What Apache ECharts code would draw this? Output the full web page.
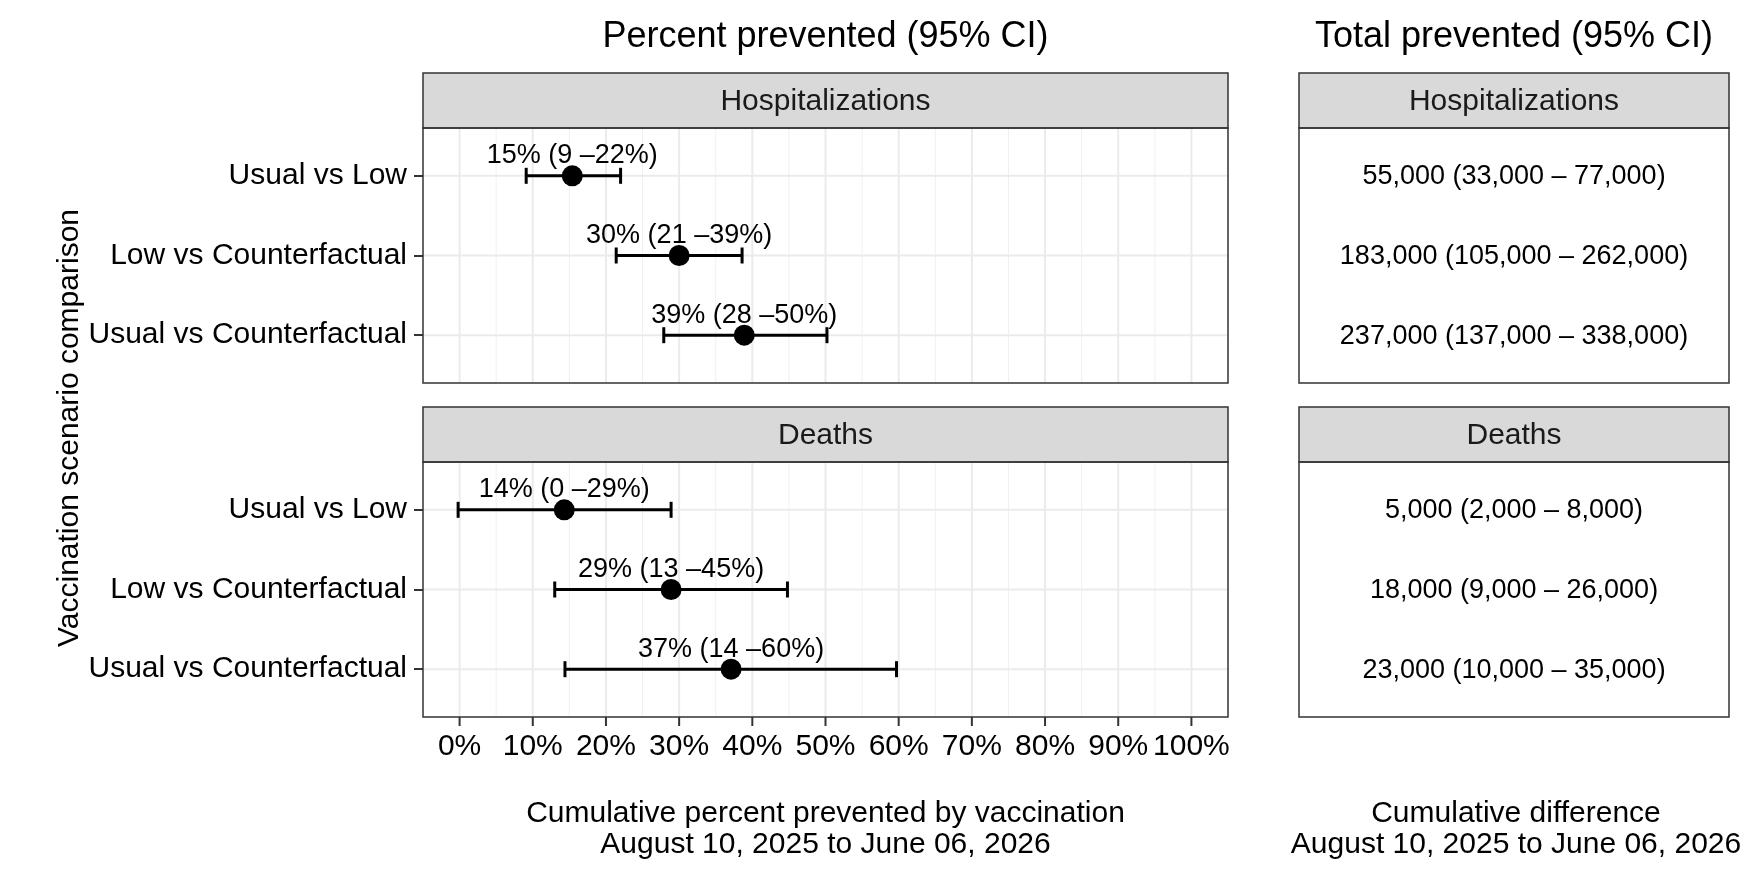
<!DOCTYPE html>
<html><head><meta charset="utf-8">
<script src="https://cdn.jsdelivr.net/npm/echarts@6/dist/echarts.min.js"></script>
<style>html,body{margin:0;padding:0;background:#fff}#c{width:1764px;height:882px}</style>
</head><body><div id="c"></div>
<script>
// ---------- data ----------
const comparisons = ['Usual vs Low', 'Low vs Counterfactual', 'Usual vs Counterfactual'];
const outcomes = ['Hospitalizations', 'Deaths'];
const rows = [1, 2, 3];

const hospPct = [15.4, 30.0, 38.9];
const hospLo  = [9.1, 21.4, 27.9];
const hospHi  = [22.0, 38.6, 50.2];
const hospLabels = ['15% (9 \u201322%)', '30% (21 \u201339%)', '39% (28 \u201350%)'];

const deathPct = [14.3, 28.9, 37.1];
const deathLo  = [-0.2, 13.0, 14.4];
const deathHi  = [28.9, 44.8, 59.7];
const deathLabels = ['14% (0 \u201329%)', '29% (13 \u201345%)', '37% (14 \u201360%)'];

const hospTotals  = ['55,000 (33,000 \u2013 77,000)', '183,000 (105,000 \u2013 262,000)', '237,000 (137,000 \u2013 338,000)'];
const deathTotals = ['5,000 (2,000 \u2013 8,000)', '18,000 (9,000 \u2013 26,000)', '23,000 (10,000 \u2013 35,000)'];

const xMajorTicks = [0, 10, 20, 30, 40, 50, 60, 70, 80, 90, 100];
const xMinorTicks = [5, 15, 25, 35, 45, 55, 65, 75, 85, 95];

const titleLeft = 'Percent prevented (95% CI)';
const titleRight = 'Total prevented (95% CI)';
const xTitleLeft = 'Cumulative percent prevented by vaccination\nAugust 10, 2025 to June 06, 2026';
const xTitleRight = 'Cumulative difference\nAugust 10, 2025 to June 06, 2026';
const yTitle = 'Vaccination scenario comparison';

// ---------- layout ----------
const FONT = '"Liberation Sans", Arial, Helvetica, sans-serif';
const X_MIN = -5, X_MAX = 105, Y_MIN = 0.4, Y_MAX = 3.6;
const L = {x: 423, w: 805}, R = {x: 1299, w: 430};
const P1 = {y: 128, h: 255}, P2 = {y: 462, h: 255};
const STRIP_H = 55;
const TICK_LEN = 9;

const grids = [
  {left: L.x, top: P1.y, width: L.w, height: P1.h},
  {left: L.x, top: P2.y, width: L.w, height: P2.h},
  {left: R.x, top: P1.y, width: R.w, height: P1.h},
  {left: R.x, top: P2.y, width: R.w, height: P2.h}
];

function xAxisLeft(idx, showLabels) {
  return {
    type: 'value', gridIndex: idx, min: X_MIN, max: X_MAX, position: 'bottom',
    splitLine: {show: false},
    axisLine: {show: false, onZero: false},
    axisTick: {show: false},
    axisLabel: {show: showLabels, customValues: xMajorTicks, formatter: v => v + '%',
      fontSize: 30, color: '#000', fontFamily: FONT, margin: 15}
  };
}
function yAxisLeft(idx) {
  return {
    type: 'value', gridIndex: idx, min: Y_MIN, max: Y_MAX, inverse: true, position: 'left',
    splitLine: {show: false}, axisLine: {show: false, onZero: false},
    axisTick: {show: true, customValues: rows, length: TICK_LEN, lineStyle: {color: '#333', width: 2}},
    axisLabel: {show: true, customValues: rows, formatter: v => comparisons[Math.round(v) - 1],
      fontSize: 30, color: '#000', fontFamily: FONT, margin: 16}
  };
}
function hiddenX(idx) { return {type: 'value', gridIndex: idx, min: 0, max: 1, show: false, splitLine: {show: false}}; }
function hiddenY(idx) { return {type: 'value', gridIndex: idx, min: Y_MIN, max: Y_MAX, inverse: true, show: false, splitLine: {show: false}}; }

function vLines(idx, values, width, color) {
  return {
    type: 'custom', xAxisIndex: idx, yAxisIndex: idx, z: 1, silent: true,
    data: values.map(v => [v, 1]), encode: {x: 0, y: 1},
    renderItem: (params, api) => {
      const v = api.value(0);
      const a = api.coord([v, Y_MIN]), b = api.coord([v, Y_MAX]);
      return {type: 'line', shape: {x1: a[0], y1: a[1], x2: b[0], y2: b[1]}, style: {stroke: color, lineWidth: width}};
    }
  };
}
// outside tick marks under the bottom panel's x axis
function xTickMarks(idx, values) {
  return {
    type: 'custom', xAxisIndex: idx, yAxisIndex: idx, z: 60, silent: true, clip: false,
    data: values.map(v => [v, 2]), encode: {x: 0, y: 1},
    renderItem: (params, api) => {
      const a = api.coord([api.value(0), Y_MAX]);
      return {type: 'line', z2: 100, shape: {x1: a[0], y1: a[1], x2: a[0], y2: a[1] + TICK_LEN},
        style: {stroke: '#333', lineWidth: 2}};
    }
  };
}
function hLines(idx, values, width, color) {
  return {
    type: 'custom', xAxisIndex: idx, yAxisIndex: idx, z: 1, silent: true,
    data: values.map(v => [0, v]), encode: {x: 0, y: 1},
    renderItem: (params, api) => {
      const v = api.value(1);
      const a = api.coord([X_MIN, v]), b = api.coord([X_MAX, v]);
      return {type: 'line', shape: {x1: a[0], y1: a[1], x2: b[0], y2: b[1]}, style: {stroke: color, lineWidth: width}};
    }
  };
}
function errBars(idx, lo, hi) {
  return {
    type: 'custom', xAxisIndex: idx, yAxisIndex: idx, z: 3, silent: true,
    data: rows.map((r, i) => [lo[i], hi[i], r]), encode: {x: [0, 1], y: 2},
    renderItem: (params, api) => {
      const a = api.coord([api.value(0), api.value(2)]);
      const b = api.coord([api.value(1), api.value(2)]);
      const h = 8, st = {stroke: '#000', lineWidth: 3};
      return {type: 'group', children: [
        {type: 'line', shape: {x1: a[0], y1: a[1], x2: b[0], y2: b[1]}, style: st},
        {type: 'line', shape: {x1: a[0], y1: a[1] - h, x2: a[0], y2: a[1] + h}, style: st},
        {type: 'line', shape: {x1: b[0], y1: b[1] - h, x2: b[0], y2: b[1] + h}, style: st}
      ]};
    }
  };
}
function points(idx, pct, labels) {
  return {
    type: 'scatter', xAxisIndex: idx, yAxisIndex: idx, z: 4, silent: true,
    symbol: 'circle', symbolSize: 21, itemStyle: {color: '#000', opacity: 1},
    data: rows.map((r, i) => [pct[i], r]),
    label: {show: true, position: 'inside', offset: [0, -20], formatter: p => labels[p.dataIndex],
      fontSize: 27, color: '#000', fontFamily: FONT, textBorderWidth: 0}
  };
}
function totals(idx, texts) {
  return {
    type: 'custom', xAxisIndex: idx, yAxisIndex: idx, z: 3, silent: true,
    data: rows.map(r => [0.5, r]), encode: {x: 0, y: 1},
    renderItem: (params, api) => {
      const p = api.coord([api.value(0), api.value(1)]);
      return {type: 'text', x: p[0], y: p[1] + 1, style: {text: texts[params.dataIndex],
        fontSize: 27, fontFamily: FONT, fill: '#000',
        align: 'center', verticalAlign: 'middle', textAlign: 'center', textVerticalAlign: 'middle'}};
    }
  };
}

function strip(x, y, w, text) {
  return [
    {type: 'rect', z: 50, shape: {x: x, y: y, width: w, height: STRIP_H},
      style: {fill: '#D9D9D9', stroke: '#333', lineWidth: 1.5}},
    {type: 'text', z: 51, x: x + w / 2, y: y + STRIP_H / 2 + 1,
      style: {text: text, fontSize: 30, fontFamily: FONT, fill: '#1A1A1A',
        align: 'center', verticalAlign: 'middle', textAlign: 'center', textVerticalAlign: 'middle'}}
  ];
}
function border(g) {
  return {type: 'rect', z: 50, shape: {x: g.left, y: g.top, width: g.width, height: g.height},
    style: {fill: 'none', stroke: '#333', lineWidth: 1.5}};
}
function label(x, y, text, size, rot) {
  return {type: 'text', z: 51, x: x, y: y, rotation: rot || 0,
    style: {text: text, fontSize: size, fontFamily: FONT, fill: '#000', lineHeight: size + 1,
      align: 'center', verticalAlign: 'middle', textAlign: 'center', textVerticalAlign: 'middle'}};
}

const graphics = []
  .concat(strip(L.x, P1.y - STRIP_H, L.w, outcomes[0]))
  .concat(strip(L.x, P2.y - STRIP_H, L.w, outcomes[1]))
  .concat(strip(R.x, P1.y - STRIP_H, R.w, outcomes[0]))
  .concat(strip(R.x, P2.y - STRIP_H, R.w, outcomes[1]))
  .concat(grids.map(border))
  .concat([
    label(L.x + L.w / 2, 37, titleLeft, 36),
    label(R.x + R.w / 2, 37, titleRight, 36),
    label(L.x + L.w / 2, 829, xTitleLeft, 30),
    label(R.x + R.w / 2 + 2, 829, xTitleRight, 30),
    label(70, 428, yTitle, 30, Math.PI / 2)
  ]);

const option = {
  backgroundColor: '#fff',
  animation: false,
  grid: grids.map(g => Object.assign({containLabel: false}, g)),
  xAxis: [xAxisLeft(0, false), xAxisLeft(1, true), hiddenX(2), hiddenX(3)],
  yAxis: [yAxisLeft(0), yAxisLeft(1), hiddenY(2), hiddenY(3)],
  series: [
    vLines(0, xMinorTicks, 1, '#F0F0F0'), vLines(0, xMajorTicks, 2, '#EBEBEB'), hLines(0, rows, 2, '#EBEBEB'),
    vLines(1, xMinorTicks, 1, '#F0F0F0'), vLines(1, xMajorTicks, 2, '#EBEBEB'), hLines(1, rows, 2, '#EBEBEB'),
    xTickMarks(1, xMajorTicks),
    errBars(0, hospLo, hospHi), points(0, hospPct, hospLabels),
    errBars(1, deathLo, deathHi), points(1, deathPct, deathLabels),
    totals(2, hospTotals), totals(3, deathTotals)
  ],
  graphic: graphics
};

const chart = echarts.init(document.getElementById('c'), null, {renderer: 'canvas'});
chart.setOption(option);
</script></body></html>
